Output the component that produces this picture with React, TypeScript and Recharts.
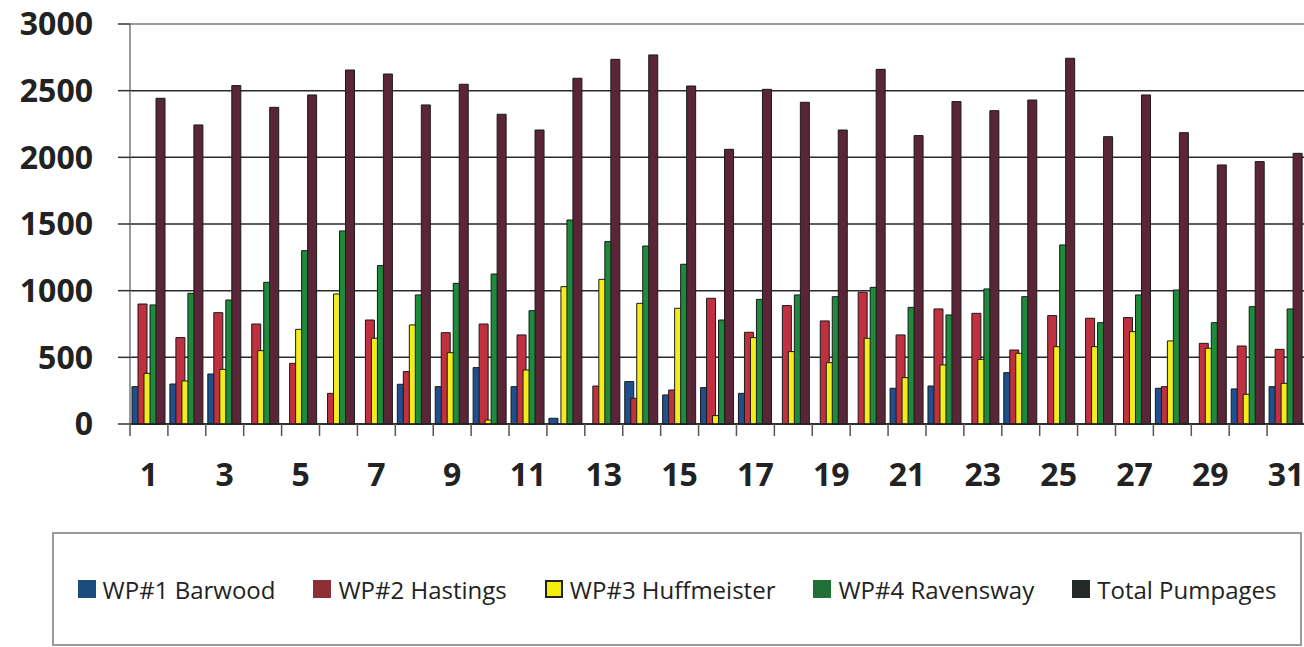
import { Bar, BarChart, CartesianGrid, ReferenceLine, XAxis, YAxis } from "recharts";

const days = Array.from({ length: 31 }, (_, i) => String(i + 1));

const barwood = [280, 300, 375, 0, 0, 0, 0, 298, 280, 423, 280, 43, 0, 318, 218, 273, 230, 0, 0, 0, 268, 285, 0, 385, 0, 0, 0, 268, 0, 263, 280];
const hastings = [900, 648, 835, 750, 455, 230, 780, 393, 685, 750, 668, 0, 285, 193, 255, 943, 688, 888, 773, 988, 668, 863, 830, 555, 813, 793, 798, 280, 605, 585, 560];
const huffmeister = [380, 323, 410, 550, 710, 975, 643, 743, 535, 30, 405, 1030, 1085, 905, 868, 63, 648, 543, 460, 643, 348, 443, 485, 530, 580, 580, 693, 623, 568, 223, 305];
const ravensway = [893, 980, 930, 1063, 1300, 1448, 1188, 968, 1055, 1125, 850, 1530, 1368, 1335, 1198, 780, 935, 968, 955, 1025, 875, 818, 1013, 955, 1343, 760, 968, 1005, 760, 880, 863];
const total = [2443, 2243, 2538, 2375, 2468, 2655, 2625, 2393, 2548, 2323, 2205, 2593, 2735, 2768, 2535, 2060, 2510, 2413, 2205, 2660, 2163, 2418, 2350, 2430, 2743, 2155, 2468, 2185, 1943, 1968, 2030];

const yTicks = [0, 500, 1000, 1500, 2000, 2500, 3000];

const seriesKeys = ["barwood", "hastings", "huffmeister", "ravensway", "total"];
const seriesNames = ["WP#1 Barwood", "WP#2 Hastings", "WP#3 Huffmeister", "WP#4 Ravensway", "Total Pumpages"];
const barColors = ["#1f4f8c", "#c0303f", "#f2ec1c", "#1e8a3c", "#5a2637"];
const legendColors = ["#1a4c7e", "#8e2f38", "#f4ee10", "#1f6f36", "#252a28"];

const data = days.map((day, i) => ({
  day,
  barwood: barwood[i],
  hastings: hastings[i],
  huffmeister: huffmeister[i],
  ravensway: ravensway[i],
  total: total[i],
}));

const W = 1305;
const YW = 130;
const band = (W - YW) / days.length;
const font = "'Open Sans', sans-serif";

function DayTick(props: any) {
  const { x, y, payload, index } = props;
  const left = x - band / 2;
  return (
    <g>
      <line x1={left} y1={y} x2={left} y2={y + 12} stroke="#555" strokeWidth={1.5} />
      {index % 2 === 0 && (
        <text x={x} y={y + 62} textAnchor="middle" fontFamily={font} fontWeight={700} fontSize={32} fill="#222">
          {payload.value}
        </text>
      )}
    </g>
  );
}

export default function App() {
  return (
    <div style={{ position: "absolute", left: 0, top: 0, width: 1304, height: 647, background: "#fff", overflow: "hidden" }}>
      <BarChart
        width={W}
        height={500}
        data={data}
        margin={{ top: 24, right: 0, left: 0, bottom: 0 }}
        barSize={9}
        barGap={-3}
      >
        <CartesianGrid vertical={false} stroke="#2a2a2a" strokeWidth={1.5} />
        <ReferenceLine y={3000} stroke="#999" strokeWidth={2} />
        <XAxis
          dataKey="day"
          interval={0}
          height={76}
          tickSize={0}
          tickMargin={0}
          tickLine={false}
          axisLine={{ stroke: "#222", strokeWidth: 1.5 }}
          tick={<DayTick />}
        />
        <YAxis
          width={YW}
          domain={[0, 3000]}
          ticks={yTicks}
          interval={0}
          tickSize={12}
          tickMargin={25}
          axisLine={{ stroke: "#777", strokeWidth: 1.5 }}
          tickLine={{ stroke: "#333", strokeWidth: 1.5 }}
          tick={{ fontFamily: font, fontWeight: 700, fontSize: 32, fill: "#222" }}
        />
        {seriesKeys.map((k, i) => (
          <Bar key={k} dataKey={k} name={seriesNames[i]} fill={barColors[i]} stroke="#1a1a1a" strokeWidth={1} isAnimationActive={false} />
        ))}
      </BarChart>
      <div
        style={{
          position: "absolute",
          left: 52,
          top: 532,
          width: 1246,
          height: 110,
          border: "2px solid #9a9a9a",
          display: "flex",
          alignItems: "center",
          justifyContent: "center",
          gap: 38,
          fontFamily: font,
          fontSize: 24,
          color: "#222",
        }}
      >
        {seriesNames.map((n, i) => (
          <div key={n} style={{ display: "flex", alignItems: "center", gap: 7 }}>
            <span style={{ width: 18, height: 18, background: legendColors[i], border: i === 2 ? "2px solid #222" : "none", boxSizing: "border-box", display: "inline-block" }} />
            <span>{n}</span>
          </div>
        ))}
      </div>
    </div>
  );
}
